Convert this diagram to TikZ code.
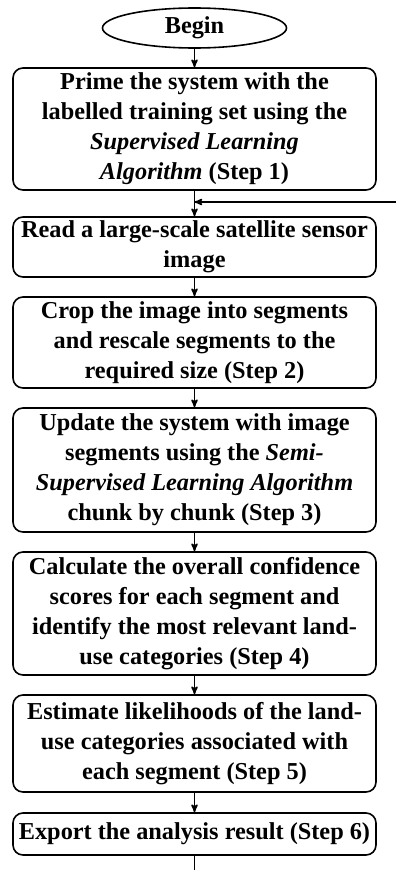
\documentclass[tikz,border=0pt]{standalone}
\usepackage{fontspec}
\setmainfont{Liberation Serif}
\usepackage{tikz}
\usetikzlibrary{arrows,positioning,shapes.geometric}

\begin{document}
\begin{tikzpicture}[->,>=stealth',line width=1.6pt,
    font=\fontsize{24.3}{30}\selectfont\bfseries,
    stepbox/.style={draw,rounded corners=10pt,align=center,
      minimum width=363pt,inner sep=2pt},
    term/.style={draw,ellipse,minimum width=184pt,minimum height=40pt,inner sep=0pt}]
    \useasboundingbox (0,0) rectangle (396pt,-870pt);
    \node (begin) [term] at (194.5pt,-28pt) {Begin};
    \node (s1) [stepbox,minimum height=122pt,below = 18.4pt of begin]
      {Prime the system with the\\labelled training set using the\\
       \textit{Supervised Learning}\\\textit{Algorithm} (Step 1)};
    \node (read) [stepbox,minimum height=60pt,below = 25.4pt of s1]
      {Read a large-scale satellite sensor\\image};
    \node (s2) [stepbox,minimum height=91pt,below = 18.4pt of read]
      {Crop the image into segments\\and rescale segments to the\\
       required  size (Step 2)};
    \node (s3) [stepbox,minimum height=124pt,below = 18.4pt of s2]
      {Update the system with image\\segments using the \textit{Semi-}\\
       \textit{Supervised Learning Algorithm}\\chunk by chunk (Step 3)};
    \node (s4) [stepbox,minimum height=123pt,below = 18.4pt of s3]
      {Calculate the overall confidence\\scores for each segment and\\
       identify the most relevant land-\\use categories (Step 4)};
    \node (s5) [stepbox,minimum height=97pt,below = 18.4pt of s4]
      {Estimate likelihoods  of the land-\\use categories associated with\\
       each segment (Step 5)};
    \node (s6) [stepbox,minimum height=42pt,below = 19.4pt of s5]
      {Export the analysis result (Step 6)};
    % loop back in from the right, and the way out at the bottom
    \coordinate (loopin) at (396pt,-202pt);
    \coordinate (tail) at ([yshift=-15pt]s6.south);
    \path (begin) edge (s1)
    (s1) edge (read)
    (read) edge (s2)
    (s2) edge (s3)
    (s3) edge (s4)
    (s4) edge (s5)
    (s5) edge (s6)
    (loopin) edge (loopin -| s1.south)
    (s6) edge [-] (tail);
  \end{tikzpicture}
\end{document}
